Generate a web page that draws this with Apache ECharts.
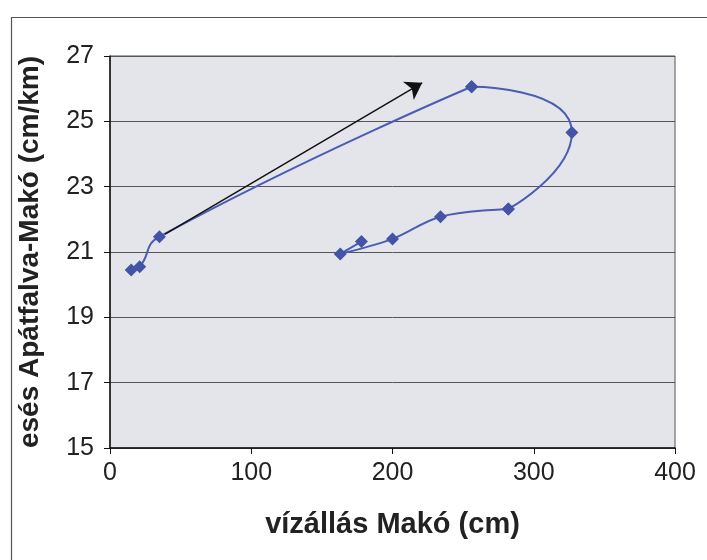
<!DOCTYPE html>
<html>
<head>
<meta charset="utf-8">
<script src="https://cdn.jsdelivr.net/npm/echarts@6/dist/echarts.min.js"></script>
<style>
html,body{margin:0;padding:0;background:#fff;}
#c{width:707px;height:560px;}
</style>
</head>
<body>
<div id="c"></div>
<script>
// water level at Makó (cm)
var waterLevel = [15, 21, 35, 256, 327, 282, 234, 200, 163, 178];
// slope Apátfalva-Makó (cm/km)
var slope = [20.45, 20.55, 21.47, 26.06, 24.66, 22.32, 22.08, 21.40, 20.94, 21.32];
// arrow start / end (data coordinates)
var arrowStart = [39, 21.55];
var arrowEnd = [221, 26.18];
var xTicks = [0, 100, 200, 300, 400];
var yTicks = [15, 17, 19, 21, 23, 25, 27];

var points = waterLevel.map(function (x, i) { return [x, slope[i]]; });
// the same curve drawn in three pieces so each part gets its own smoothing
var pieces = [
  {data: points.slice(0, 4), smooth: 0.5},   // rising limb up to the peak slope
  {data: points.slice(3, 6), smooth: 1},     // the rounded turn at high water
  {data: points.slice(5), smooth: 0.35}      // falling limb
];

var FONT = "'Liberation Sans', Arial, sans-serif";
var series = pieces.map(function (p) {
  return {
    type: 'line',
    data: p.data,
    smooth: p.smooth,
    symbol: 'diamond',
    symbolSize: 13,
    itemStyle: {color: '#4354a6'},
    lineStyle: {color: '#4a5cb4', width: 2}
  };
});
series[0].markLine = {
  silent: true,
  symbol: ['none', 'arrow'],
  symbolSize: 16,
  label: {show: false},
  lineStyle: {color: '#111', width: 1.5, type: 'solid'},
  data: [[{coord: arrowStart}, {coord: arrowEnd}]]
};

var chart = echarts.init(document.getElementById('c'), null, {renderer: 'canvas'});
chart.setOption({
  backgroundColor: '#ffffff',
  animation: false,
  graphic: [{
    type: 'rect', left: 9, top: 15, silent: true,
    shape: {width: 720, height: 600},
    style: {fill: 'none', stroke: '#555', lineWidth: 1.2}
  }],
  grid: {
    left: 110, right: 32, top: 56, bottom: 112,
    show: true, backgroundColor: '#e4e5ea', borderColor: '#555', borderWidth: 1
  },
  xAxis: {
    type: 'value', min: xTicks[0], max: xTicks[xTicks.length - 1], interval: 100,
    name: 'vízállás Makó (cm)', nameLocation: 'middle', nameGap: 62,
    nameTextStyle: {fontFamily: FONT, fontSize: 29, fontWeight: 'bold', color: '#222'},
    axisLine: {show: true, lineStyle: {color: '#111', width: 1.5}},
    axisTick: {show: true, inside: false, length: 6, lineStyle: {color: '#111'}},
    axisLabel: {fontFamily: FONT, fontSize: 25, color: '#222', margin: 13},
    splitLine: {show: false}
  },
  yAxis: {
    type: 'value', min: yTicks[0], max: yTicks[yTicks.length - 1], interval: 2,
    name: 'esés Apátfalva-Makó (cm/km)', nameLocation: 'middle', nameGap: 66,
    nameTextStyle: {fontFamily: FONT, fontSize: 28, fontWeight: 'bold', color: '#222'},
    axisLine: {show: true, lineStyle: {color: '#111', width: 1.5}},
    axisTick: {show: true, inside: false, length: 6, lineStyle: {color: '#111'}},
    axisLabel: {fontFamily: FONT, fontSize: 25, color: '#222', margin: 16},
    splitLine: {show: true, lineStyle: {color: '#555', width: 1}}
  },
  series: series
});
</script>
</body>
</html>
